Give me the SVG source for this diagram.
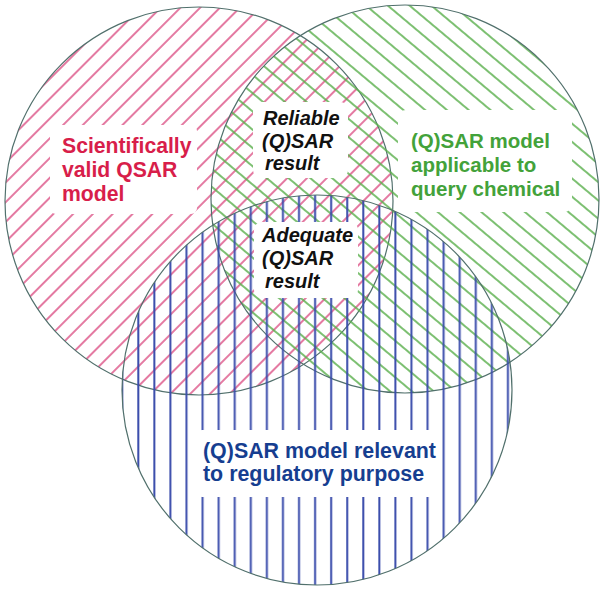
<svg xmlns="http://www.w3.org/2000/svg" width="608" height="590" viewBox="0 0 608 590">
  <style>
    .ring { stroke: #51706c; stroke-width: 1.2; }
    .clear { fill: #ffffff; stroke: none; }
    .lbl { font-family: "Liberation Sans", Arial, sans-serif; font-weight: bold; }
    .red { fill: #d81e4a; font-size: 21.2px; }
    .green { fill: #43a23a; font-size: 20.5px; }
    .blue { fill: #163e90; font-size: 21.4px; }
    .black { fill: #111111; font-size: 20px; font-style: italic; }
  </style>
  <defs>
    <pattern id="hatch-red" patternUnits="userSpaceOnUse" width="14" height="14" patternTransform="rotate(45)">
      <line x1="7" y1="0" x2="7" y2="14" stroke="#d8417a" stroke-width="1.4"/>
    </pattern>
    <pattern id="hatch-green" patternUnits="userSpaceOnUse" width="14" height="14" patternTransform="rotate(-50)">
      <line x1="7" y1="0" x2="7" y2="14" stroke="#5cb04e" stroke-width="1.6"/>
    </pattern>
    <pattern id="hatch-blue" patternUnits="userSpaceOnUse" width="16.07" height="20">
      <line x1="9.75" y1="0" x2="9.75" y2="20" stroke="#3a4cab" stroke-width="2"/>
    </pattern>
  </defs>

  <rect width="608" height="590" fill="#ffffff"/>

  <g id="node-valid-model">
    <circle cx="199" cy="201" r="194" fill="url(#hatch-red)" class="ring"/>
  </g>
  <g id="node-applicable-model">
    <circle cx="405" cy="199" r="194" fill="url(#hatch-green)" class="ring"/>
  </g>
  <g id="node-relevant-model">
    <circle cx="317" cy="390" r="195" fill="url(#hatch-blue)" class="ring"/>
  </g>

  <g id="label-valid-model">
    <rect class="clear" x="50" y="125" width="147" height="89" rx="6"/>
    <text class="lbl red" x="62" y="153">Scientifically</text>
    <text class="lbl red" x="62" y="177">valid QSAR</text>
    <text class="lbl red" x="62" y="201">model</text>
  </g>
  <g id="label-applicable-model">
    <rect class="clear" x="398" y="110" width="174" height="102" rx="8"/>
    <text class="lbl green" x="411" y="148">(Q)SAR model</text>
    <text class="lbl green" x="411" y="172">applicable to</text>
    <text class="lbl green" x="411" y="196">query chemical</text>
  </g>
  <g id="label-relevant-model">
    <rect class="clear" x="198" y="430" width="239" height="67" rx="4"/>
    <text class="lbl blue" x="203" y="458">(Q)SAR model relevant</text>
    <text class="lbl blue" x="203" y="481">to regulatory purpose</text>
  </g>
  <g id="node-reliable-result">
    <rect class="clear" x="253" y="102" width="95" height="76" rx="8"/>
    <text class="lbl black" x="263" y="125">Reliable</text>
    <text class="lbl black" x="262" y="148">(Q)SAR</text>
    <text class="lbl black" x="265" y="170">result</text>
  </g>
  <g id="node-adequate-result">
    <rect class="clear" x="254" y="222" width="104" height="76" rx="8"/>
    <text class="lbl black" x="262" y="242">Adequate</text>
    <text class="lbl black" x="262" y="265">(Q)SAR</text>
    <text class="lbl black" x="265" y="288">result</text>
  </g>
</svg>
